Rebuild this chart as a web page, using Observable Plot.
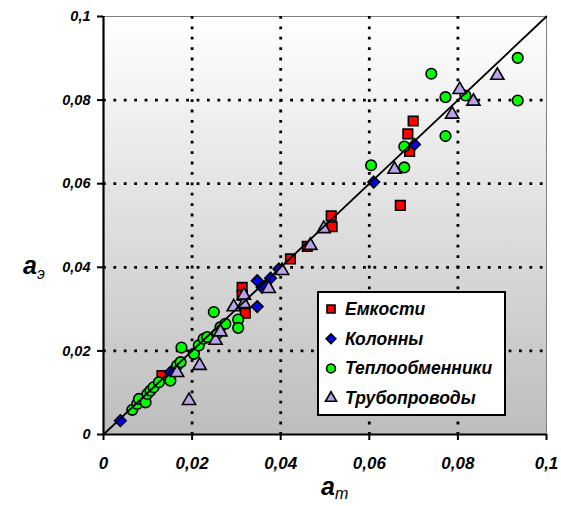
<!DOCTYPE html>
<html><head><meta charset="utf-8">
<script src="https://cdn.jsdelivr.net/npm/d3@7"></script>
<script src="https://cdn.jsdelivr.net/npm/@observablehq/plot@0.6"></script>
<style>
html,body{margin:0;padding:0;background:#fff;}
#chart{position:relative;width:561px;height:506px;}
</style>
</head><body>
<div id="chart"></div>
<script>
// Емкости
const tanksX = [0.0132, 0.0313, 0.0313, 0.0320, 0.0422, 0.0460, 0.0514, 0.0516, 0.0670, 0.0687, 0.0691, 0.0699];
const tanksY = [0.0141, 0.0352, 0.0333, 0.0290, 0.0420, 0.0450, 0.0523, 0.0497, 0.0548, 0.0719, 0.0677, 0.0750];
// Колонны
const colsX = [0.0038, 0.0151, 0.0347, 0.0358, 0.0347, 0.0366, 0.0377, 0.0396, 0.0610, 0.0702];
const colsY = [0.0033, 0.0149, 0.0368, 0.0352, 0.0306, 0.0356, 0.0374, 0.0396, 0.0604, 0.0694];
// Теплообменники
const heatX = [0.0065, 0.0076, 0.0080, 0.0095, 0.0099, 0.0106, 0.0113, 0.0125, 0.0151, 0.0166, 0.0174, 0.0176, 0.0204, 0.0215, 0.0226, 0.0234, 0.0249, 0.0257, 0.0264, 0.0275, 0.0304, 0.0304, 0.0604, 0.0679, 0.0679, 0.0740, 0.0772, 0.0772, 0.0817, 0.0935, 0.0935];
const heatY = [0.0059, 0.0073, 0.0085, 0.0077, 0.0097, 0.0105, 0.0113, 0.0125, 0.0129, 0.0165, 0.0173, 0.0208, 0.0193, 0.0213, 0.0229, 0.0233, 0.0293, 0.0241, 0.0257, 0.0265, 0.0275, 0.0255, 0.0644, 0.0639, 0.0689, 0.0863, 0.0807, 0.0714, 0.0811, 0.0901, 0.0799];
// Трубопроводы
const pipeX = [0.0193, 0.0217, 0.0166, 0.0253, 0.0264, 0.0294, 0.0317, 0.0317, 0.0373, 0.0403, 0.0467, 0.0497, 0.0657, 0.0787, 0.0804, 0.0835, 0.0889];
const pipeY = [0.0081, 0.0165, 0.0148, 0.0225, 0.0245, 0.0305, 0.0313, 0.0333, 0.0349, 0.0392, 0.0452, 0.0492, 0.0634, 0.0766, 0.0825, 0.0797, 0.0859];
// диагональ
const diagVals = [0, 0.1];
const tickVals = [0, 0.02, 0.04, 0.06, 0.08, 0.1];
const gridVals = [0.02, 0.04, 0.06, 0.08];
const seriesNames = ["Емкости", "Колонны", "Теплообменники", "Трубопроводы"];
const seriesColors = ["#ff0000", "#0000ff", "#00ff00", "#b9a3e8"];
const seriesSymbols = ["square", "diamond2", "circle", "triangle"];
const seriesR = [5.4, 5.2, 5.3, 4.9];

const zip = (xs, ys) => xs.map((x, i) => ({x, y: ys[i]}));
const sets = [zip(tanksX, tanksY), zip(colsX, colsY), zip(heatX, heatY), zip(pipeX, pipeY)];
const fmt = d => d === 0 ? "0" : String(+d.toFixed(2)).replace(".", ",");
const FONT = "'Liberation Sans', Arial, sans-serif";

const plot = Plot.plot({
  width: 561, height: 506,
  marginLeft: 103, marginRight: 15, marginTop: 16, marginBottom: 72,
  style: {fontFamily: FONT, background: "white", color: "black"},
  x: {domain: [0, 0.1]},
  y: {domain: [0, 0.1]},
  marks: [
    Plot.frame({fill: "url(#bggrad)", stroke: "#808080", strokeWidth: 1}),
    Plot.gridX(gridVals, {stroke: "black", strokeOpacity: 1, strokeWidth: 2.8, strokeDasharray: "2.8,7.6"}),
    Plot.gridY(gridVals, {stroke: "black", strokeOpacity: 1, strokeWidth: 2.8, strokeDasharray: "2.8,7.6"}),
    Plot.axisX(tickVals, {tickFormat: fmt, tickSize: 6, tickPadding: 16, strokeWidth: 2, fontSize: 17, fontWeight: "bold", fontStyle: "italic", label: null}),
    Plot.axisY(tickVals, {tickFormat: fmt, tickSize: 6, tickPadding: 7, strokeWidth: 2, fontSize: 14.5, fontWeight: "bold", fontStyle: "italic", label: null}),
    Plot.ruleX([0], {stroke: "black", strokeWidth: 2.2}),
    Plot.ruleY([0], {stroke: "black", strokeWidth: 2.2}),
    ...sets.map((s, i) => Plot.dot(s, {x: "x", y: "y", symbol: () => seriesSymbols[i], r: seriesR[i], fill: seriesColors[i], stroke: "black", strokeWidth: 1.6})),
    Plot.line(diagVals, {x: d => d, y: d => d, stroke: "black", strokeWidth: 1.8})
  ]
});

const svg = d3.select(plot);
svg.insert("defs", ":first-child").html(
  '<linearGradient id="bggrad" x1="0" y1="0" x2="0" y2="1">' +
  '<stop offset="0" stop-color="#ffffff"/><stop offset="1" stop-color="#bdbdbd"/></linearGradient>');

// Axis titles
const xl = svg.append("text").attr("x", 321).attr("y", 495).attr("text-anchor", "start").attr("font-family", FONT).attr("fill", "black");
xl.append("tspan").attr("font-size", 25).attr("font-weight", "bold").attr("font-style", "italic").text("a");
xl.append("tspan").attr("font-size", 16).attr("font-style", "italic").attr("dy", 4).text("т");
const yl = svg.append("text").attr("x", 23).attr("y", 274).attr("text-anchor", "start").attr("font-family", FONT).attr("fill", "black");
yl.append("tspan").attr("font-size", 25).attr("font-weight", "bold").attr("font-style", "italic").text("a");
yl.append("tspan").attr("font-size", 16).attr("font-style", "italic").attr("dy", 5).text("э");

// Legend
const lg = svg.append("g").attr("transform", "translate(318,292)");
lg.append("rect").attr("width", 187).attr("height", 123).attr("fill", "white").attr("stroke", "black").attr("stroke-width", 2);
const symMap = {square: d3.symbolSquare, diamond2: d3.symbolDiamond2, circle: d3.symbolCircle, triangle: d3.symbolTriangle};
seriesNames.forEach((name, i) => {
  const cy = 17 + i * 29.7;
  lg.append("path").attr("transform", `translate(13,${cy})`)
    .attr("d", d3.symbol(symMap[seriesSymbols[i]], Math.PI * seriesR[i] * seriesR[i] * 0.7)())
    .attr("fill", seriesColors[i]).attr("stroke", "black").attr("stroke-width", 1.6);
  lg.append("text").attr("x", 27).attr("y", cy + 6).attr("text-anchor", "start").attr("font-family", FONT).attr("font-size", 17.5)
    .attr("font-weight", "bold").attr("font-style", "italic").attr("fill", "black").text(name);
});

document.getElementById("chart").appendChild(plot);
</script>
</body></html>
